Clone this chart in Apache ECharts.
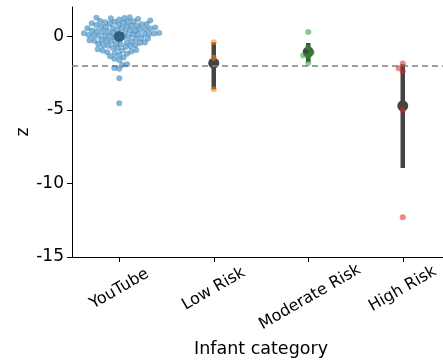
<!DOCTYPE html>
<html>
<head>
    <meta charset="utf-8">
    <script src="https://cdn.jsdelivr.net/npm/echarts@6.0.0/dist/echarts.min.js"></script>
    <style>
        html, body { margin: 0; padding: 0; background: #fff; }
        #main { width: 443px; height: 362px; }
    </style>
</head>
<body>
    <div id="main"></div>
    <script type="text/javascript">

        var categories = ["YouTube", "Low Risk", "Moderate Risk", "High Risk"];
        var yTicks = [-15, -10, -5, 0];

        // individual z values
        var youtube = [
            1.31, 1.27, 1.23, 1.19, 1.15, 1.26,
            1.08, 1.05, 1.03, 0.99, 0.96, 0.93, 0.9, 0.87, 0.84, 0.83, 0.8, 0.77, 1.0,
            0.74, 0.72, 0.68, 0.66, 0.62, 0.6, 0.59, 0.56, 0.53, 0.5, 0.48, 0.44,
            0.42, 0.41, 0.38, 0.36, 0.33, 0.31, 0.55,
            0.28, 0.25, 0.24, 0.2, 0.18, 0.17, 0.13, 0.11, 0.1, 0.06, 0.04, 0.03, -0.01, -0.03, -0.04, -0.07, 0.21, 0.14,
            -0.12, -0.15, -0.17, -0.21, -0.24, -0.26, -0.3, -0.33, -0.35, -0.39, -0.42, -0.44, -0.48, -0.51,
            -0.55, -0.58, -0.6, -0.64, -0.67, -0.29,
            -0.72, -0.77, -0.81, -0.87, -0.92, -0.96, -1.02, -1.07, -1.12, -1.18, -1.24, -0.95,
            -1.35, -1.43, -1.52, -1.6,
            -1.9, -1.92, -2.15, -2.2,
            -2.85, -4.55
        ];
        var lowRisk = [-0.4, -1.45, -3.6];
        var moderateRisk = [0.3, -0.75, -1.1, -1.3, -1.35, -1.8];
        var highRisk = [-1.85, -2.17, -2.37, -5.0, -12.3];

        // point estimate and error bar ends
        var means = [0.0, -1.82, -1.06, -4.72];
        var ciLow = [-0.15, -3.6, -1.75, -8.95];
        var ciHigh = [0.15, -0.4, -0.45, -1.9];

        var threshold = -2;

        var groups = [youtube, lowRisk, moderateRisk, highRisk];
        var colors = ['#1f77b4', '#ff7f0e', '#2ca02c', '#d62728'];
        var font = 'DejaVu Sans';

        var myChart = echarts.init(document.getElementById('main'), null, {renderer: 'canvas'});

        var swarmSeries = groups.map(function (g, i) {
            return {
                name: categories[i],
                type: 'scatter',
                xAxisIndex: 1,
                symbolSize: 6,
                z: 5,
                itemStyle: {color: colors[i], opacity: 0.55},
                data: []
            };
        });

        myChart.setOption({
            animation: false,
            grid: {left: 72, right: -7, top: 7, bottom: 105, containLabel: false, outerBoundsMode: 'none'},
            xAxis: [{
                type: 'category',
                data: categories,
                boundaryGap: true,
                name: 'Infant category',
                nameLocation: 'middle',
                nameGap: 83,
                nameTextStyle: {fontFamily: font, fontSize: 17.5, color: '#000'},
                axisLine: {onZero: false, lineStyle: {color: '#000', width: 1}},
                axisTick: {show: true, interval: 0, alignWithLabel: true, length: 5, lineStyle: {color: '#000'}},
                axisLabel: {
                    interval: 0,
                    rotate: 30,
                    align: 'center',
                    verticalAlign: 'middle',
                    margin: 32,
                    fontFamily: font,
                    fontSize: 16,
                    color: '#000',
                    // matplotlib aligns the tops of rotated labels; nudge the long one down
                    formatter: function (v) {
                        return v === 'Moderate Risk' ? '\n' + v + ' ' : v;
                    }
                },
                splitLine: {show: false}
            }, {
                type: 'value',
                show: false,
                min: -0.5,
                max: 3.5,
                axisLine: {onZero: false}
            }],
            yAxis: {
                type: 'value',
                min: -15,
                max: 2,
                interval: 5,
                name: 'z',
                nameLocation: 'middle',
                nameRotate: 90,
                nameGap: 40,
                nameMoveOverlap: false,
                nameTextStyle: {fontFamily: font, fontSize: 17, color: '#000'},
                axisLine: {show: true, onZero: false, lineStyle: {color: '#000', width: 1}},
                axisTick: {show: true, length: 5, customValues: yTicks, lineStyle: {color: '#000'}},
                axisLabel: {
                    customValues: yTicks,
                    margin: 8,
                    fontFamily: font,
                    fontSize: 17,
                    color: '#000'
                },
                splitLine: {show: false}
            },
            series: [{
                name: 'ci',
                type: 'custom',
                xAxisIndex: 1,
                z: 2,
                data: categories.map(function (c, i) { return [i, ciLow[i], ciHigh[i]]; }),
                renderItem: function (params, api) {
                    var p1 = api.coord([api.value(0), api.value(1)]);
                    var p2 = api.coord([api.value(0), api.value(2)]);
                    return {
                        type: 'line',
                        shape: {x1: p1[0], y1: p1[1], x2: p2[0], y2: p2[1]},
                        style: {stroke: '#444', lineWidth: 4.5}
                    };
                }
            }, {
                name: 'mean',
                type: 'scatter',
                xAxisIndex: 1,
                symbolSize: 11,
                z: 3,
                itemStyle: {color: '#444', opacity: 1},
                data: means.map(function (m, i) { return [i, m]; }),
                markLine: {
                    silent: true,
                    symbol: 'none',
                    label: {show: false},
                    lineStyle: {color: '#808080', type: [6, 4], width: 1.5},
                    data: [{yAxis: threshold}]
                }
            }].concat(swarmSeries)
        });

        // simple beeswarm in pixel space, same idea as seaborn (lowest value placed first)
        function beeswarm(ys, d) {
            var order = ys.map(function (y, i) { return i; }).sort(function (a, b) { return ys[b] - ys[a]; });
            var placed = [];
            var xs = new Array(ys.length);
            order.forEach(function (i) {
                var y = ys[i];
                var near = placed.filter(function (p) { return Math.abs(p.y - y) < d; });
                var cands = [0];
                near.forEach(function (p) {
                    var dx = Math.sqrt(d * d - (p.y - y) * (p.y - y));
                    cands.push(p.x - dx, p.x + dx);
                });
                cands.sort(function (a, b) { return Math.abs(a) - Math.abs(b); });
                var x = 0;
                for (var k = 0; k < cands.length; k++) {
                    var c = cands[k];
                    var ok = near.every(function (p) {
                        return (p.x - c) * (p.x - c) + (p.y - y) * (p.y - y) >= d * d - 1e-6;
                    });
                    if (ok) { x = c; break; }
                }
                xs[i] = x;
                placed.push({x: x, y: y});
            });
            return xs;
        }

        var bw = myChart.convertToPixel({xAxisIndex: 1}, 1) - myChart.convertToPixel({xAxisIndex: 1}, 0);
        var swarmData = groups.map(function (g, i) {
            var ys = g.map(function (v) { return myChart.convertToPixel({yAxisIndex: 0}, v); });
            var xs = beeswarm(ys, 5);
            return g.map(function (v, k) { return [i + xs[k] / bw, v]; });
        });

        myChart.setOption({
            series: swarmData.map(function (d, i) { return {name: categories[i], data: d}; })
        });
    </script>
</body>
</html>
